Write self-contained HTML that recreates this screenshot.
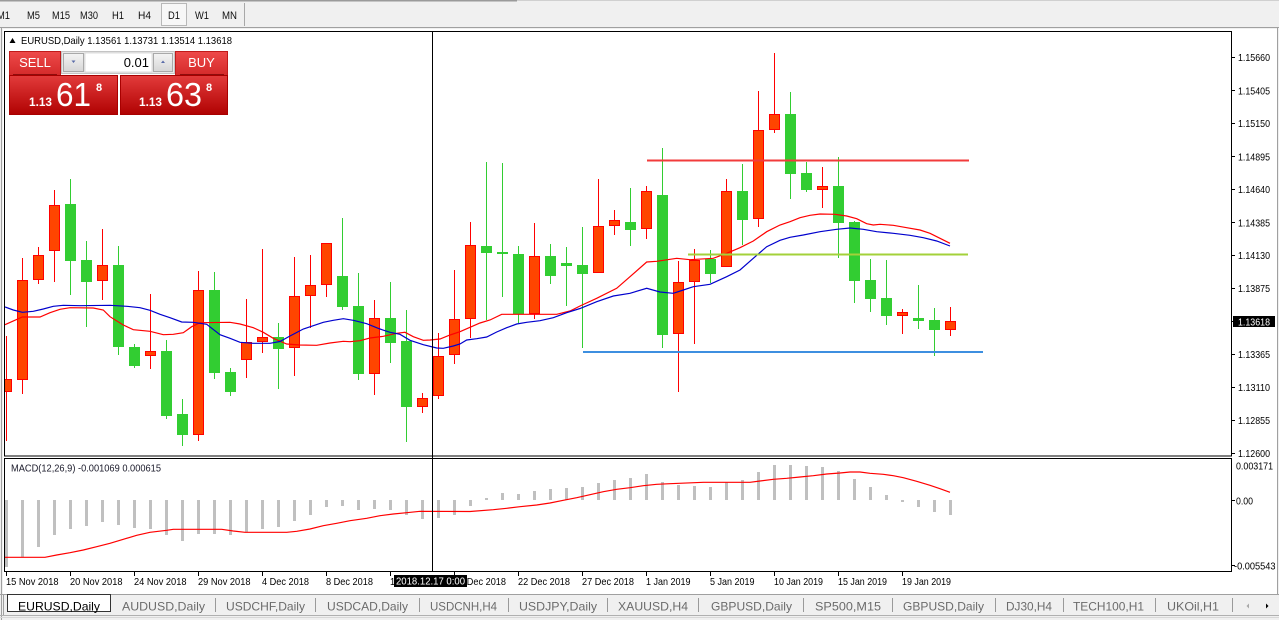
<!DOCTYPE html>
<html><head><meta charset="utf-8"><style>
html,body{margin:0;padding:0;background:#f0f0f0;overflow:hidden;width:1279px;height:620px}
svg{display:block;font-family:"Liberation Sans",Arial,sans-serif}
</style></head><body>
<svg width="1279" height="620" viewBox="0 0 1279 620" xmlns="http://www.w3.org/2000/svg">
<defs>
<clipPath id="cm"><rect x="5" y="32" width="1226" height="424"/></clipPath>
<clipPath id="cd"><rect x="5" y="459" width="1226" height="112"/></clipPath>
<linearGradient id="gh" x1="0" y1="0" x2="0" y2="1"><stop offset="0" stop-color="#ee4a4a"/><stop offset="1" stop-color="#d42a2a"/></linearGradient>
<linearGradient id="gp" x1="0" y1="0" x2="0" y2="1"><stop offset="0" stop-color="#e33b3b"/><stop offset="1" stop-color="#b00202"/></linearGradient>
<linearGradient id="gb" x1="0" y1="0" x2="0" y2="1"><stop offset="0" stop-color="#f4f4f4"/><stop offset="1" stop-color="#d6d6d6"/></linearGradient>
</defs>
<rect x="0" y="0" width="1279" height="620" fill="#f0f0f0"/>
<rect x="0" y="0" width="517" height="1.5" fill="#9a9a9a"/>
<rect x="517" y="0" width="762" height="1" fill="#d0d0d0"/>
<rect x="0" y="27" width="1279" height="1" fill="#a0a0a0"/>
<rect x="161.5" y="3.5" width="25" height="22" fill="#f7f7f7" stroke="#b8b8b8"/>
<rect x="244" y="3" width="1" height="23" fill="#a8a8a8"/>
<g font-size="11" fill="#111">
<text x="-3" y="19" textLength="13" lengthAdjust="spacingAndGlyphs">M1</text>
<text x="27" y="19" textLength="13" lengthAdjust="spacingAndGlyphs">M5</text>
<text x="52" y="19" textLength="18" lengthAdjust="spacingAndGlyphs">M15</text>
<text x="80" y="19" textLength="18" lengthAdjust="spacingAndGlyphs">M30</text>
<text x="112" y="19" textLength="12" lengthAdjust="spacingAndGlyphs">H1</text>
<text x="138" y="19" textLength="13" lengthAdjust="spacingAndGlyphs">H4</text>
<text x="168" y="19" textLength="12" lengthAdjust="spacingAndGlyphs">D1</text>
<text x="195" y="19" textLength="14" lengthAdjust="spacingAndGlyphs">W1</text>
<text x="222" y="19" textLength="15" lengthAdjust="spacingAndGlyphs">MN</text>
</g>
<rect x="3" y="29" width="1274" height="565" fill="#ffffff"/>
<rect x="1" y="28" width="1" height="592" fill="#a0a0a0"/>
<rect x="1277" y="28" width="1" height="566" fill="#a0a0a0"/>
<rect x="4.5" y="31.5" width="1227" height="424.5" fill="none" stroke="#000"/>
<rect x="4.5" y="458.5" width="1227" height="113" fill="none" stroke="#000"/>

<g clip-path="url(#cm)">
<g fill="#ff0000">
<rect x="6" y="336" width="1" height="105"/><rect x="22" y="258" width="1" height="136"/><rect x="38" y="247" width="1" height="37"/><rect x="54" y="190" width="1" height="92"/><rect x="102" y="229" width="1" height="71"/><rect x="150" y="294" width="1" height="75"/><rect x="198" y="271" width="1" height="170"/><rect x="246" y="299" width="1" height="79"/><rect x="262" y="249" width="1" height="104"/><rect x="294" y="257" width="1" height="119"/><rect x="310" y="255" width="1" height="73"/><rect x="326" y="243" width="1" height="54"/><rect x="374" y="300" width="1" height="95"/><rect x="422" y="393" width="1" height="20"/><rect x="438" y="333" width="1" height="66"/><rect x="454" y="270" width="1" height="94"/><rect x="470" y="222" width="1" height="116"/><rect x="534" y="223" width="1" height="96"/><rect x="598" y="179" width="1" height="94"/><rect x="614" y="210" width="1" height="25"/><rect x="646" y="186" width="1" height="53"/><rect x="678" y="261" width="1" height="131"/><rect x="694" y="249" width="1" height="95"/><rect x="726" y="179" width="1" height="88"/><rect x="758" y="91" width="1" height="136"/><rect x="774" y="53" width="1" height="80"/><rect x="822" y="167" width="1" height="41"/><rect x="902" y="309" width="1" height="25"/><rect x="950" y="307" width="1" height="29"/>
</g>
<g fill="#32cd32">
<rect x="70" y="179" width="1" height="116"/><rect x="86" y="241" width="1" height="86"/><rect x="118" y="246" width="1" height="109"/><rect x="134" y="344" width="1" height="24"/><rect x="166" y="340" width="1" height="79"/><rect x="182" y="399" width="1" height="47"/><rect x="214" y="272" width="1" height="107"/><rect x="230" y="368" width="1" height="28"/><rect x="278" y="323" width="1" height="66"/><rect x="342" y="218" width="1" height="92"/><rect x="358" y="273" width="1" height="107"/><rect x="390" y="282" width="1" height="81"/><rect x="406" y="310" width="1" height="132"/><rect x="486" y="162" width="1" height="158"/><rect x="502" y="163" width="1" height="134"/><rect x="518" y="246" width="1" height="77"/><rect x="550" y="244" width="1" height="40"/><rect x="566" y="247" width="1" height="59"/><rect x="582" y="227" width="1" height="121"/><rect x="630" y="188" width="1" height="58"/><rect x="662" y="148" width="1" height="200"/><rect x="710" y="250" width="1" height="33"/><rect x="742" y="164" width="1" height="81"/><rect x="790" y="92" width="1" height="107"/><rect x="806" y="162" width="1" height="30"/><rect x="838" y="157" width="1" height="101"/><rect x="854" y="221" width="1" height="82"/><rect x="870" y="259" width="1" height="53"/><rect x="886" y="260" width="1" height="65"/><rect x="918" y="285" width="1" height="44"/><rect x="934" y="308" width="1" height="48"/>
</g>
<g fill="#ff4500" stroke="#ff0000" stroke-width="1">
<rect x="1.5" y="379.5" width="10" height="12"/><rect x="17.5" y="280.5" width="10" height="99"/><rect x="33.5" y="255.5" width="10" height="24"/><rect x="49.5" y="205.5" width="10" height="45"/><rect x="97.5" y="265.5" width="10" height="15"/><rect x="145.5" y="351.5" width="10" height="4"/><rect x="193.5" y="290.5" width="10" height="144"/><rect x="241.5" y="342.5" width="10" height="17"/><rect x="257.5" y="337.5" width="10" height="4"/><rect x="289.5" y="296.5" width="10" height="51"/><rect x="305.5" y="285.5" width="10" height="10"/><rect x="321.5" y="243.5" width="10" height="41"/><rect x="369.5" y="318.5" width="10" height="55"/><rect x="417.5" y="398.5" width="10" height="8"/><rect x="433.5" y="356.5" width="10" height="39"/><rect x="449.5" y="319.5" width="10" height="35"/><rect x="465.5" y="245.5" width="10" height="73"/><rect x="529.5" y="256.5" width="10" height="57"/><rect x="593.5" y="226.5" width="10" height="46"/><rect x="609.5" y="220.5" width="10" height="5"/><rect x="641.5" y="191.5" width="10" height="37"/><rect x="673.5" y="282.5" width="10" height="51"/><rect x="689.5" y="260.5" width="10" height="21"/><rect x="721.5" y="191.5" width="10" height="75"/><rect x="753.5" y="130.5" width="10" height="88"/><rect x="769.5" y="114.5" width="10" height="15"/><rect x="817.5" y="186.5" width="10" height="3"/><rect x="897.5" y="312.5" width="10" height="3"/><rect x="945.5" y="321.5" width="10" height="8"/>
</g>
<g fill="#32cd32">
<rect x="65" y="204" width="11" height="57"/><rect x="81" y="260" width="11" height="22"/><rect x="113" y="265" width="11" height="82"/><rect x="129" y="347" width="11" height="19"/><rect x="161" y="351" width="11" height="65"/><rect x="177" y="414" width="11" height="21"/><rect x="209" y="290" width="11" height="83"/><rect x="225" y="372" width="11" height="20"/><rect x="273" y="337" width="11" height="12"/><rect x="337" y="276" width="11" height="31"/><rect x="353" y="306" width="11" height="68"/><rect x="385" y="318" width="11" height="25"/><rect x="401" y="341" width="11" height="66"/><rect x="481" y="246" width="11" height="7"/><rect x="497" y="252" width="11" height="2"/><rect x="513" y="254" width="11" height="60"/><rect x="545" y="256" width="11" height="20"/><rect x="561" y="263" width="11" height="3"/><rect x="577" y="265" width="11" height="9"/><rect x="625" y="222" width="11" height="8"/><rect x="657" y="195" width="11" height="140"/><rect x="705" y="259" width="11" height="15"/><rect x="737" y="191" width="11" height="29"/><rect x="785" y="114" width="11" height="60"/><rect x="801" y="173" width="11" height="17"/><rect x="833" y="186" width="11" height="37"/><rect x="849" y="222" width="11" height="59"/><rect x="865" y="280" width="11" height="19"/><rect x="881" y="298" width="11" height="18"/><rect x="913" y="318" width="11" height="3"/><rect x="929" y="320" width="11" height="10"/>
</g>
<polyline fill="none" stroke="#ff0000" stroke-width="1.2" points="5,324.7 22.3,317 40,317 50,312.7 60,309.3 70,307.7 93.3,308 103.3,310 110,316.7 123.3,325 133.3,329.7 150,331.3 163.3,334.7 173.3,334.3 183.3,332.7 191.7,326.7 200,322.7 230,322.3 240,324 253.3,327.7 263.3,332.3 273.3,338.3 286.7,344 300,345 316.7,345.3 330,343 343.3,341.3 350,341.7 360,340.7 370,338 383.3,336.3 396.7,333.3 405,332.3 413.3,336.7 423.3,340.3 430,340 440,339 450,335 460,331.7 470,327.3 480,323 490,320 501.7,314.3 556.7,314.3 570,311 580,306 596.7,298.3 616.7,288.3 630,276.7 646.7,262 656.7,261.3 676.7,258.3 690,259.7 713.3,258.3 726.7,253.3 740,247.7 753.3,241 766.7,231.7 780,225 790,221.7 800,217.7 810,215.3 820,214 835,214.3 846.7,216 856.7,218.7 866.7,223.7 873.3,225 880,224.3 893.3,225.3 906.7,227.7 920,230 930,233.3 940,238.3 950,243.3"/>
<polyline fill="none" stroke="#0000cd" stroke-width="1.2" points="5,307 13.3,310 22.3,312.3 33.3,311.3 43.3,309 53.3,306.3 63.3,305.3 80,305.7 110,305.3 126.7,306.3 140,307.7 150,310.3 160,314.3 170,317.7 181.7,322 193.3,322.3 206.7,324.3 220,334.7 230,338.3 240,342.3 253.3,343.3 270,343.3 280,341.5 290,336 303.3,329 313.3,325.7 323.3,322.3 333.3,320.3 343.3,318.7 353.3,320.3 366.7,323.7 380,329 390,332.3 400,334.3 410,340.3 423.3,344.7 436.7,348 443.3,348.3 453.3,346 460,344 466.7,340 476.7,338.7 486.7,337 496.7,332 506.7,327.7 516.7,324 526.7,322.3 540,320.7 553.3,317.7 566.7,312.7 580,308.5 596.7,301.7 613.3,296 630,293.3 646.7,288.3 660,292 673.3,293.3 683.3,290 693.3,286.7 710,284.3 726.7,276.7 740,270 753.3,258.3 766.7,246.7 780,240.3 790,237.3 803.3,235 820,231.7 836.7,229.3 850,228 863.3,229.3 876.7,231.7 893.3,233.3 910,235.3 923.3,237.7 936.7,241 950,246"/>
<line x1="647" y1="160.5" x2="969" y2="160.5" stroke="#f23b3b" stroke-width="2"/>
<line x1="688" y1="254.5" x2="968" y2="254.5" stroke="#a3d13a" stroke-width="2"/>
<line x1="583" y1="352" x2="983" y2="352" stroke="#3d8fe0" stroke-width="2"/>
</g>

<g clip-path="url(#cd)">
<g fill="#c0c0c0">
<rect x="5" y="500" width="3" height="67"/><rect x="21" y="500" width="3" height="57"/><rect x="37" y="500" width="3" height="47"/><rect x="53" y="500" width="3" height="35"/><rect x="69" y="500" width="3" height="29"/><rect x="85" y="500" width="3" height="26"/><rect x="101" y="500" width="3" height="22"/><rect x="117" y="500" width="3" height="25"/><rect x="133" y="500" width="3" height="28"/><rect x="149" y="500" width="3" height="29"/><rect x="165" y="500" width="3" height="35"/><rect x="181" y="500" width="3" height="41"/><rect x="197" y="500" width="3" height="34"/><rect x="213" y="500" width="3" height="34"/><rect x="229" y="500" width="3" height="35"/><rect x="245" y="500" width="3" height="32"/><rect x="261" y="500" width="3" height="29"/><rect x="277" y="500" width="3" height="27"/><rect x="293" y="500" width="3" height="21"/><rect x="309" y="500" width="3" height="15"/><rect x="325" y="500" width="3" height="7"/><rect x="341" y="500" width="3" height="6"/><rect x="357" y="500" width="3" height="10"/><rect x="373" y="500" width="3" height="9"/><rect x="389" y="500" width="3" height="10"/><rect x="405" y="500" width="3" height="15"/><rect x="421" y="500" width="3" height="19"/><rect x="437" y="500" width="3" height="18"/><rect x="453" y="500" width="3" height="15"/><rect x="469" y="500" width="3" height="6"/>
<rect x="485" y="498" width="3" height="2"/><rect x="501" y="493" width="3" height="7"/><rect x="517" y="494" width="3" height="6"/><rect x="533" y="491" width="3" height="9"/><rect x="549" y="489" width="3" height="11"/><rect x="565" y="488" width="3" height="12"/><rect x="581" y="487" width="3" height="13"/><rect x="597" y="483" width="3" height="17"/><rect x="613" y="480" width="3" height="20"/><rect x="629" y="478" width="3" height="22"/><rect x="645" y="474" width="3" height="26"/><rect x="661" y="482" width="3" height="18"/><rect x="677" y="485" width="3" height="15"/><rect x="693" y="486" width="3" height="14"/><rect x="709" y="487" width="3" height="13"/><rect x="725" y="482" width="3" height="18"/><rect x="741" y="480" width="3" height="20"/><rect x="757" y="472" width="3" height="28"/><rect x="773" y="465" width="3" height="35"/><rect x="789" y="465" width="3" height="35"/><rect x="805" y="466" width="3" height="34"/><rect x="821" y="467" width="3" height="33"/><rect x="837" y="471" width="3" height="29"/><rect x="853" y="479" width="3" height="21"/><rect x="869" y="487" width="3" height="13"/><rect x="885" y="495" width="3" height="5"/>
<rect x="901" y="500" width="3" height="2"/><rect x="917" y="500" width="3" height="7"/><rect x="933" y="500" width="3" height="12"/><rect x="949" y="500" width="3" height="15"/>
</g>
<polyline fill="none" stroke="#ff0000" stroke-width="1.2" points="5,557.3 45,557.3 56.7,555 70,552.7 83.3,550 96.7,546.7 110,543.3 123.3,539.3 136.7,535.3 150,532.3 166.7,530.3 173.3,529.3 221.7,529.3 233.3,531 245,532.3 286.7,532.3 296.7,531.3 310,529 323.3,525.7 336.7,523.3 350,520.7 366.7,518.3 380,515.7 393.3,514 406.7,512.7 420,511.3 470,511.5 493.3,509.7 506.7,508.3 520,506.7 536.7,505 550,503 563.3,500.3 576.7,497.7 590,494.7 603.3,491.7 616.7,489.3 630,487.7 643.3,485.7 656.7,484.3 670,483.7 703.3,482.3 750,482.3 760,481 773.3,479.3 786.7,478.3 800,477 813.3,475.7 826.7,474 840,473 850,472 860,472 870,473.3 883.3,474.3 893.3,475.7 903.3,477.7 916.7,481.3 930,485.3 940,488.7 950,492.3"/>
</g>
<text x="11" y="471.5" font-size="10.5" fill="#1a1a2a" textLength="150" lengthAdjust="spacingAndGlyphs">MACD(12,26,9) -0.001069 0.000615</text>

<rect x="432" y="31" width="1" height="541" fill="#000"/>

<g fill="#000">
<rect x="1232" y="57" width="3" height="1"/><rect x="1232" y="90" width="3" height="1"/><rect x="1232" y="123" width="3" height="1"/><rect x="1232" y="156" width="3" height="1"/><rect x="1232" y="189" width="3" height="1"/><rect x="1232" y="222" width="3" height="1"/><rect x="1232" y="255" width="3" height="1"/><rect x="1232" y="288" width="3" height="1"/><rect x="1232" y="354" width="3" height="1"/><rect x="1232" y="387" width="3" height="1"/><rect x="1232" y="420" width="3" height="1"/><rect x="1232" y="453" width="3" height="1"/><rect x="1232" y="500" width="3" height="1"/><rect x="1232" y="565" width="3" height="1"/>
</g>
<g font-size="10.5" fill="#000">
<text x="1238" y="61" textLength="32" lengthAdjust="spacingAndGlyphs">1.15660</text>
<text x="1238" y="94.4" textLength="32" lengthAdjust="spacingAndGlyphs">1.15405</text>
<text x="1238" y="127.2" textLength="32" lengthAdjust="spacingAndGlyphs">1.15150</text>
<text x="1238" y="160.4" textLength="32" lengthAdjust="spacingAndGlyphs">1.14895</text>
<text x="1238" y="193.2" textLength="32" lengthAdjust="spacingAndGlyphs">1.14640</text>
<text x="1238" y="226.4" textLength="32" lengthAdjust="spacingAndGlyphs">1.14385</text>
<text x="1238" y="259.2" textLength="32" lengthAdjust="spacingAndGlyphs">1.14130</text>
<text x="1238" y="292.2" textLength="32" lengthAdjust="spacingAndGlyphs">1.13875</text>
<text x="1238" y="357.8" textLength="32" lengthAdjust="spacingAndGlyphs">1.13365</text>
<text x="1238" y="391.1" textLength="32" lengthAdjust="spacingAndGlyphs">1.13110</text>
<text x="1238" y="423.8" textLength="32" lengthAdjust="spacingAndGlyphs">1.12855</text>
<text x="1238" y="457" textLength="32" lengthAdjust="spacingAndGlyphs">1.12600</text>
<text x="1236" y="469.5" textLength="37" lengthAdjust="spacingAndGlyphs">0.003171</text>
<text x="1236" y="504.5" textLength="17" lengthAdjust="spacingAndGlyphs">0.00</text>
<text x="1234" y="569.5" textLength="41.5" lengthAdjust="spacingAndGlyphs">-0.005543</text>
</g>
<rect x="1233" y="316" width="42" height="11" fill="#000"/>
<rect x="1232" y="321" width="3" height="1" fill="#000"/>
<text x="1238" y="325.3" font-size="10.5" fill="#fff" textLength="32" lengthAdjust="spacingAndGlyphs">1.13618</text>

<g fill="#000">
<rect x="6" y="572" width="1" height="4"/><rect x="70" y="572" width="1" height="4"/><rect x="134" y="572" width="1" height="4"/><rect x="198" y="572" width="1" height="4"/><rect x="262" y="572" width="1" height="4"/><rect x="326" y="572" width="1" height="4"/><rect x="390" y="572" width="1" height="4"/><rect x="454" y="572" width="1" height="4"/><rect x="518" y="572" width="1" height="4"/><rect x="582" y="572" width="1" height="4"/><rect x="646" y="572" width="1" height="4"/><rect x="710" y="572" width="1" height="4"/><rect x="774" y="572" width="1" height="4"/><rect x="838" y="572" width="1" height="4"/><rect x="902" y="572" width="1" height="4"/>
</g>
<g font-size="10.5" fill="#000">
<text x="6" y="585" textLength="52.5" lengthAdjust="spacingAndGlyphs">15 Nov 2018</text>
<text x="70" y="585" textLength="52.5" lengthAdjust="spacingAndGlyphs">20 Nov 2018</text>
<text x="134" y="585" textLength="52.5" lengthAdjust="spacingAndGlyphs">24 Nov 2018</text>
<text x="198" y="585" textLength="52.5" lengthAdjust="spacingAndGlyphs">29 Nov 2018</text>
<text x="262" y="585" textLength="47" lengthAdjust="spacingAndGlyphs">4 Dec 2018</text>
<text x="326" y="585" textLength="47" lengthAdjust="spacingAndGlyphs">8 Dec 2018</text>
<text x="390" y="585" textLength="52" lengthAdjust="spacingAndGlyphs">13 Dec 2018</text>
<text x="454" y="585" textLength="52" lengthAdjust="spacingAndGlyphs">18 Dec 2018</text>
<text x="518" y="585" textLength="52" lengthAdjust="spacingAndGlyphs">22 Dec 2018</text>
<text x="582" y="585" textLength="52" lengthAdjust="spacingAndGlyphs">27 Dec 2018</text>
<text x="646" y="585" textLength="44.5" lengthAdjust="spacingAndGlyphs">1 Jan 2019</text>
<text x="710" y="585" textLength="44.5" lengthAdjust="spacingAndGlyphs">5 Jan 2019</text>
<text x="774" y="585" textLength="49" lengthAdjust="spacingAndGlyphs">10 Jan 2019</text>
<text x="838" y="585" textLength="49" lengthAdjust="spacingAndGlyphs">15 Jan 2019</text>
<text x="902" y="585" textLength="49" lengthAdjust="spacingAndGlyphs">19 Jan 2019</text>
</g>
<rect x="394" y="575" width="73" height="12" fill="#000"/>
<text x="396" y="584.5" font-size="10.5" fill="#fff" textLength="69" lengthAdjust="spacingAndGlyphs">2018.12.17 0:00</text>

<polygon points="9.5,43 12.5,38 15.5,43" fill="#000"/>
<text x="21" y="44" font-size="10.5" fill="#000" textLength="211" lengthAdjust="spacingAndGlyphs">EURUSD,Daily  1.13561 1.13731 1.13514 1.13618</text>

<rect x="9.5" y="51.5" width="51" height="24" fill="url(#gh)" stroke="#c01a1a"/>
<rect x="175.5" y="51.5" width="52" height="24" fill="url(#gh)" stroke="#c01a1a"/>
<rect x="9.5" y="75.5" width="108" height="39" fill="url(#gp)" stroke="#a80000"/>
<rect x="120.5" y="75.5" width="107" height="39" fill="url(#gp)" stroke="#a80000"/>
<rect x="13" y="74" width="44" height="1" fill="#8e0d0d"/>
<rect x="180" y="74" width="44" height="1" fill="#8e0d0d"/>
<text x="35" y="67" font-size="13" fill="#fff" text-anchor="middle">SELL</text>
<text x="201.5" y="67" font-size="13" fill="#fff" text-anchor="middle">BUY</text>
<rect x="61.5" y="51.5" width="113" height="22" fill="#e8e8e8" stroke="#c4c4c4"/>
<rect x="85" y="53" width="67" height="19" fill="#fff" stroke="#c8c8c8" stroke-width="0.6"/>
<rect x="63.5" y="53.5" width="20" height="18" fill="url(#gb)" stroke="#a9a9a9"/>
<rect x="153.5" y="53.5" width="19" height="18" fill="url(#gb)" stroke="#a9a9a9"/>
<polygon points="71.5,60.5 75.5,60.5 73.5,63" fill="#5a6ca8"/>
<polygon points="161,63 165,63 163,60.5" fill="#5a6ca8"/>
<text x="149" y="67" font-size="13" fill="#000" text-anchor="end">0.01</text>
<g fill="#fff">
<text x="29" y="106" font-size="11.5" font-weight="bold" textLength="23" lengthAdjust="spacingAndGlyphs">1.13</text>
<text x="56" y="106" font-size="33" textLength="35" lengthAdjust="spacingAndGlyphs">61</text>
<text x="96" y="91" font-size="11" font-weight="bold">8</text>
<text x="139" y="106" font-size="11.5" font-weight="bold" textLength="23" lengthAdjust="spacingAndGlyphs">1.13</text>
<text x="166" y="106" font-size="33" textLength="36" lengthAdjust="spacingAndGlyphs">63</text>
<text x="206" y="91" font-size="11" font-weight="bold">8</text>
</g>

<rect x="0" y="594" width="1279" height="26" fill="#f0f0f0"/>
<rect x="0" y="594" width="1279" height="1" fill="#a0a0a0"/>
<rect x="1" y="594" width="1" height="26" fill="#a0a0a0"/>
<rect x="3" y="595" width="1" height="20" fill="#a0a0a0"/>
<rect x="7.5" y="594.5" width="103" height="17" fill="#fff" stroke="#333"/>
<rect x="0" y="615" width="1279" height="1" fill="#b0b0b0"/>
<rect x="0" y="617" width="1279" height="1" fill="#d8d8d8"/>
<g fill="#9a9a9a">
<rect x="215" y="598" width="1" height="14"/><rect x="315" y="598" width="1" height="14"/><rect x="419" y="598" width="1" height="14"/><rect x="508" y="598" width="1" height="14"/><rect x="607" y="598" width="1" height="14"/><rect x="698" y="598" width="1" height="14"/><rect x="803" y="598" width="1" height="14"/><rect x="892" y="598" width="1" height="14"/><rect x="995" y="598" width="1" height="14"/><rect x="1063" y="598" width="1" height="14"/><rect x="1155" y="598" width="1" height="14"/><rect x="1232" y="598" width="1" height="14"/>
</g>
<text x="18" y="610.5" font-size="12" fill="#000" textLength="82" lengthAdjust="spacingAndGlyphs">EURUSD,Daily</text>
<g font-size="12" fill="#6b6b6b">
<text x="122" y="610.5" textLength="83" lengthAdjust="spacingAndGlyphs">AUDUSD,Daily</text>
<text x="226" y="610.5" textLength="79" lengthAdjust="spacingAndGlyphs">USDCHF,Daily</text>
<text x="327" y="610.5" textLength="81" lengthAdjust="spacingAndGlyphs">USDCAD,Daily</text>
<text x="430" y="610.5" textLength="67" lengthAdjust="spacingAndGlyphs">USDCNH,H4</text>
<text x="519" y="610.5" textLength="78" lengthAdjust="spacingAndGlyphs">USDJPY,Daily</text>
<text x="618" y="610.5" textLength="70" lengthAdjust="spacingAndGlyphs">XAUUSD,H4</text>
<text x="711" y="610.5" textLength="81" lengthAdjust="spacingAndGlyphs">GBPUSD,Daily</text>
<text x="815" y="610.5" textLength="66" lengthAdjust="spacingAndGlyphs">SP500,M15</text>
<text x="903" y="610.5" textLength="81" lengthAdjust="spacingAndGlyphs">GBPUSD,Daily</text>
<text x="1006" y="610.5" textLength="46" lengthAdjust="spacingAndGlyphs">DJ30,H4</text>
<text x="1073" y="610.5" textLength="71" lengthAdjust="spacingAndGlyphs">TECH100,H1</text>
<text x="1167" y="610.5" textLength="52" lengthAdjust="spacingAndGlyphs">UKOil,H1</text>
</g>
<polygon points="1246.5,606 1249,603.5 1249,608.5" fill="#a8a8a8"/>
<polygon points="1268.5,606 1266,603.5 1266,608.5" fill="#000"/>
</svg>
</body></html>
